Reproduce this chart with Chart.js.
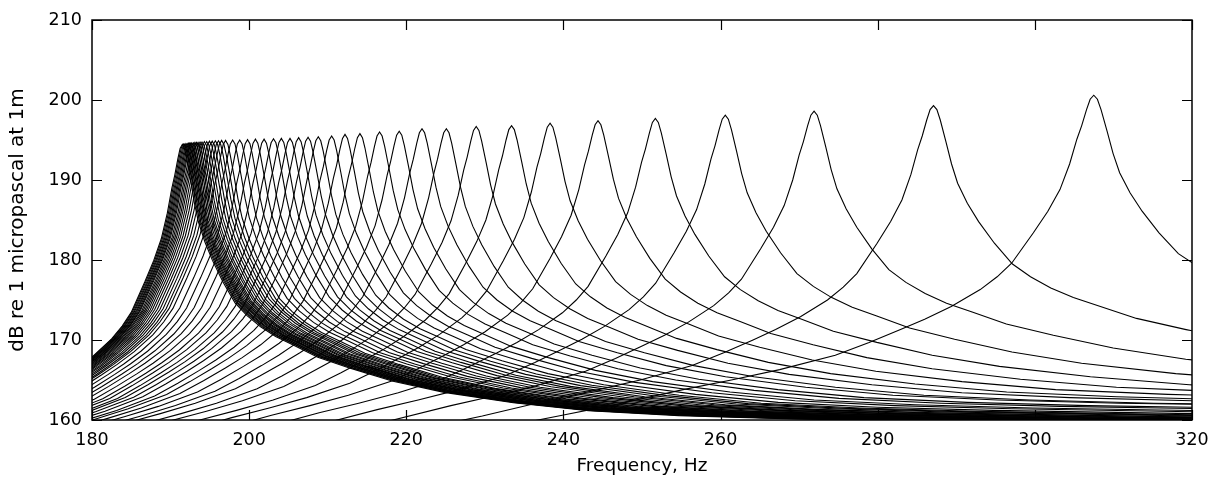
<!DOCTYPE html>
<html>
<head>
<meta charset="utf-8">
<script src="https://cdn.jsdelivr.net/npm/chart.js@4"></script>
<style>
  html, body { margin: 0; padding: 0; background: #fff; }
  #wrap { width: 1214px; height: 487px; }
</style>
</head>
<body>
<div id="wrap"><canvas id="myChart" width="1214" height="487"></canvas></div>
<script>
// resonance peaks (Hz, dB)
const peakFreqs = [191.5, 191.65, 191.8, 191.95, 192.1, 192.25, 192.4, 192.55, 192.7, 192.9,
    193.1, 193.3, 193.5, 193.75, 194.0, 194.3, 194.6, 194.95, 195.3, 195.7,
    196.1, 196.5, 197.0, 197.9, 198.8, 199.8, 200.8, 201.9, 203.1, 204.1,
    205.2, 206.3, 207.5, 208.8, 210.5, 212.2, 214.1, 216.6, 219.1, 222.0,
    225.1, 228.9, 233.4, 238.3, 244.4, 251.7, 260.6, 271.9, 287.1, 307.5];
const peakLevels = [194.45, 194.5, 194.5, 194.55, 194.55, 194.6, 194.6, 194.6, 194.65, 194.65,
    194.7, 194.7, 194.7, 194.75, 194.75, 194.8, 194.8, 194.85, 194.85, 194.9,
    194.9, 194.95, 194.95, 195.0, 195.0, 195.05, 195.1, 195.1, 195.15, 195.2,
    195.2, 195.3, 195.35, 195.4, 195.5, 195.7, 195.8, 196.0, 196.1, 196.4,
    196.4, 196.7, 196.8, 197.1, 197.4, 197.7, 198.1, 198.6, 199.3, 200.6];

// shape of one resonance, read from the 287 and 308 Hz curves:
// offset from the peak as a fraction of the peak frequency, and drop in dB
const leftOffsets = [-0.45, -0.4, -0.35, -0.32, -0.28, -0.25, -0.22, -0.2, -0.17, -0.15, -0.13,
    -0.107, -0.093, -0.08, -0.07, -0.059, -0.047, -0.04, -0.034, -0.025, -0.019,
    -0.014, -0.01, -0.007, -0.005, -0.003, -0.0015, 0];
const leftDrops = [51.5, 49.3, 47, 45.8, 43.5, 41.8, 40, 38.8, 36.8, 35.6, 34.3,
    32.5, 30.9, 29.3, 28, 26.4, 24.3, 22.7, 21, 17.2, 14.5,
    11.8, 8.6, 5.5, 3.8, 1.8, 0.5, 0];
const rightOffsets = [0.0015, 0.003, 0.0055, 0.008, 0.0107, 0.015, 0.02, 0.027, 0.035, 0.043,
    0.052, 0.062, 0.074, 0.09, 0.112, 0.14, 0.174, 0.22, 0.27, 0.33, 0.4, 0.55, 0.75];
const rightDrops = [0.5, 1.8, 4.5, 7.3, 9.7, 12.2, 14.5, 17.2, 19.8, 21.4,
    22.8, 24, 25.1, 26.6, 28, 29.6, 31, 32.3, 33.3, 33.9, 34.3, 34.8, 35.2];

const xTicks = [180, 200, 220, 240, 260, 280, 300, 320];
const yTicks = [160, 170, 180, 190, 200, 210];

const offsets = leftOffsets.concat(rightOffsets);
const drops = leftDrops.concat(rightDrops);

const datasets = peakFreqs.map((f0, i) => ({
    data: offsets.map((d, k) => ({ x: f0 * (1 + d), y: peakLevels[i] - drops[k] })),
    borderColor: '#000',
    borderWidth: 1.1,
    pointRadius: 0,
    fill: false,
    tension: 0
}));

const FONT = { family: 'DejaVu Sans', size: 17.5 };

// box on all four sides, ticks pointing inwards
const boxTicks = {
    id: 'boxTicks',
    afterDraw(chart) {
        const ctx = chart.ctx;
        const a = chart.chartArea;
        const xs = chart.scales.x, ys = chart.scales.y;
        const len = 10;
        ctx.save();
        ctx.strokeStyle = '#000';
        ctx.lineWidth = 1.5;
        ctx.strokeRect(a.left, a.top, a.right - a.left, a.bottom - a.top);
        ctx.lineWidth = 1.2;
        ctx.beginPath();
        xTicks.forEach(v => {
            const px = Math.round(xs.getPixelForValue(v)) + 0.5;
            ctx.moveTo(px, a.bottom); ctx.lineTo(px, a.bottom - len);
            ctx.moveTo(px, a.top); ctx.lineTo(px, a.top + len);
        });
        yTicks.forEach(v => {
            const py = Math.round(ys.getPixelForValue(v)) + 0.5;
            ctx.moveTo(a.left, py); ctx.lineTo(a.left + len, py);
            ctx.moveTo(a.right, py); ctx.lineTo(a.right - len, py);
        });
        ctx.stroke();
        ctx.restore();
    }
};

const ctx = document.getElementById('myChart').getContext('2d');
const myChart = new Chart(ctx, {
    type: 'line',
    data: { datasets: datasets },
    options: {
        responsive: false,
        animation: false,
        events: [],
        layout: { padding: { left: 0, top: 20, right: 22, bottom: 0 } },
        plugins: { legend: { display: false }, tooltip: { enabled: false } },
        scales: {
            x: {
                type: 'linear',
                min: 180, max: 320,
                afterFit(scale) {
                    scale.height = 67;
                    scale.paddingLeft = 0;
                    scale.paddingRight = 0;
                },
                afterBuildTicks(scale) { scale.ticks = xTicks.map(v => ({ value: v })); },
                grid: { display: false, drawTicks: false },
                border: { display: false },
                ticks: { color: '#000', font: FONT, padding: 10, maxRotation: 0 },
                title: { display: true, text: 'Frequency, Hz', color: '#000', font: { family: 'DejaVu Sans', size: 18.5 }, padding: { top: 6, bottom: 10 } }
            },
            y: {
                type: 'linear',
                min: 160, max: 210,
                afterFit(scale) {
                    scale.width = 92;
                    scale.paddingTop = 0;
                    scale.paddingBottom = 0;
                },
                afterBuildTicks(scale) { scale.ticks = yTicks.map(v => ({ value: v })); },
                grid: { display: false, drawTicks: false },
                border: { display: false },
                ticks: { color: '#000', font: FONT, padding: 10 },
                title: { display: true, text: 'dB re 1 micropascal at 1m', color: '#000', font: { family: 'DejaVu Sans', size: 20 }, padding: { top: 6, bottom: 4 } }
            }
        }
    },
    plugins: [boxTicks]
});
</script>
</body>
</html>
